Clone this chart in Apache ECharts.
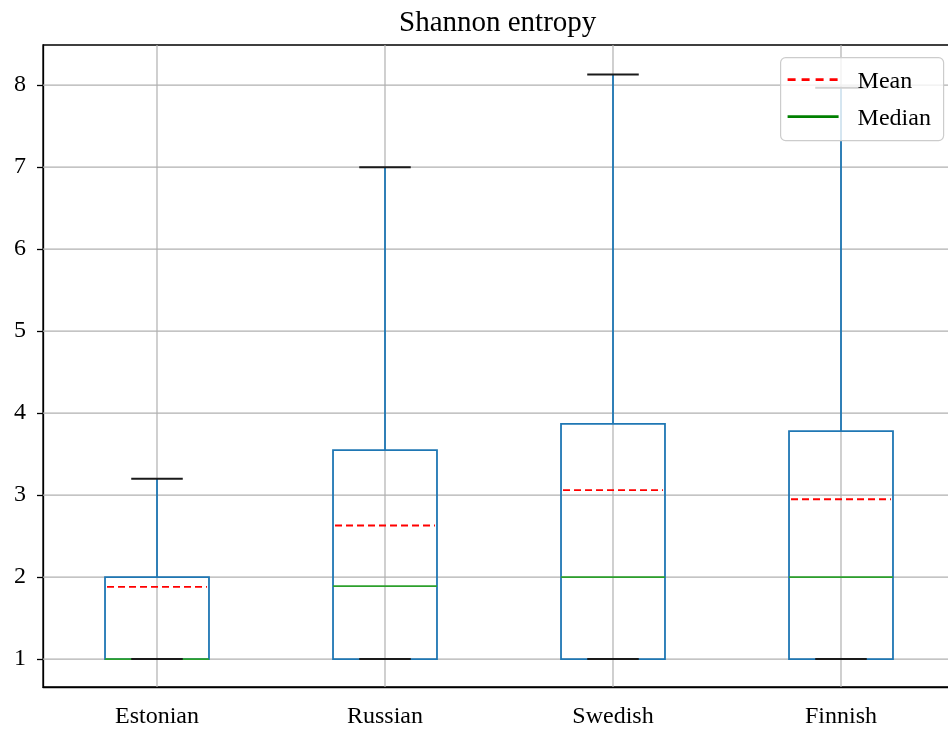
<!DOCTYPE html>
<html><head><meta charset="utf-8">
<script src="https://cdn.jsdelivr.net/npm/echarts@6/dist/echarts.min.js"></script>
<style>html,body{margin:0;padding:0;background:#fff;overflow:hidden}#c{width:960px;height:730px}</style>
</head><body><div id="c"></div>
<script>
const categories = ['Estonian', 'Russian', 'Swedish', 'Finnish'];
const whiskerLow = [1, 1, 1, 1];
const q1 = [1, 1, 1, 1];
const median = [1, 1.89, 2, 2];
const mean = [1.88, 2.63, 3.06, 2.95];
const q3 = [2, 3.55, 3.87, 3.78];
const whiskerHigh = [3.2, 7.0, 8.13, 7.97];
const yTicks = [1, 2, 3, 4, 5, 6, 7, 8];

const FONT = '"Liberation Serif","DejaVu Serif","Times New Roman",serif';
const boxData = categories.map((c, i) => [i, whiskerLow[i], q1[i], median[i], mean[i], q3[i], whiskerHigh[i]]);

const chart = echarts.init(document.getElementById('c'), null, {renderer: 'canvas'});
chart.setOption({
  animation: false,
  backgroundColor: '#fff',
  grid: {left: 43, top: 45, width: 912, height: 642, show: true, borderColor: '#000', borderWidth: 1.3, backgroundColor: 'transparent'},
  xAxis: {
    type: 'category', data: categories,
    axisLine: {lineStyle: {color: '#000', width: 1.3}},
    axisTick: {alignWithLabel: true, length: 6, lineStyle: {color: '#000', width: 1.3}},
    axisLabel: {color: '#000', fontFamily: FONT, fontSize: 24, margin: 18},
    splitLine: {show: false}
  },
  yAxis: {
    type: 'value', min: 0.66, max: 8.49,
    axisLine: {show: true, lineStyle: {color: '#000', width: 1.3}},
    axisTick: {show: true, length: 6, customValues: yTicks, lineStyle: {color: '#000', width: 1.3}},
    axisLabel: {color: '#000', fontFamily: FONT, fontSize: 24, margin: 17, customValues: yTicks},
    splitLine: {show: false}
  },
  series: [
    {
      type: 'custom', z: 1, silent: true,
      data: yTicks.map(v => [0, v]),
      renderItem: function (params, api) {
        const cs = params.coordSys;
        const y = api.coord([0, api.value(1)])[1];
        return {type: 'line', shape: {x1: cs.x, y1: y, x2: cs.x + cs.width, y2: y}, style: {stroke: '#b0b0b0', lineWidth: 1.2}};
      }
    },
    {
      type: 'custom', z: 1, silent: true,
      data: categories.map((c, i) => [i, 1]),
      renderItem: function (params, api) {
        const cs = params.coordSys;
        const x = api.coord([api.value(0), 1])[0];
        return {type: 'line', shape: {x1: x, y1: cs.y, x2: x, y2: cs.y + cs.height}, style: {stroke: '#b0b0b0', lineWidth: 1.2}};
      }
    },
    {
      type: 'custom', z: 3, silent: true,
      data: boxData,
      encode: {x: 0, y: [1, 2, 3, 4, 5, 6]},
      renderItem: function (params, api) {
        const xi = api.value(0);
        const unit = api.size([1, 0])[0];
        const hw = unit * 0.228, cw = unit * 0.113;
        const cx = api.coord([xi, 0])[0];
        const Y = v => api.coord([xi, v])[1];
        const lo = Y(api.value(1)), b1 = Y(api.value(2)), md = Y(api.value(3)), mn = Y(api.value(4)), b3 = Y(api.value(5)), hi = Y(api.value(6));
        const blue = '#1f77b4';
        return {type: 'group', children: [
          {type: 'line', shape: {x1: cx, y1: b3, x2: cx, y2: hi}, style: {stroke: blue, lineWidth: 1.8}},
          {type: 'line', shape: {x1: cx, y1: b1, x2: cx, y2: lo}, style: {stroke: blue, lineWidth: 1.8}},
          {type: 'rect', shape: {x: cx - hw, y: b3, width: 2 * hw, height: b1 - b3}, style: {stroke: blue, fill: null, lineWidth: 1.8}},
          {type: 'line', shape: {x1: cx - hw, y1: md, x2: cx + hw, y2: md}, style: {stroke: '#2ca02c', lineWidth: 1.8}},
          {type: 'line', shape: {x1: cx - cw, y1: hi, x2: cx + cw, y2: hi}, style: {stroke: '#1a1a1a', lineWidth: 2}},
          {type: 'line', shape: {x1: cx - cw, y1: lo, x2: cx + cw, y2: lo}, style: {stroke: '#1a1a1a', lineWidth: 2}},
          {type: 'line', shape: {x1: cx - hw + 2, y1: mn, x2: cx + hw - 2, y2: mn}, style: {stroke: '#ff0000', lineWidth: 1.8, lineDash: [7, 4]}}
        ]};
      }
    }
  ],
  graphic: [
    {type: 'text', left: 399, top: 9, z: 100,
     style: {text: 'Shannon entropy', fill: '#000', font: '29px ' + FONT, x: 0, y: 0}},
    {type: 'group', left: 780, top: 57, z: 100, children: [
      {type: 'rect', z: 100, shape: {x: 0, y: 0, width: 163, height: 83, r: 5}, style: {fill: 'rgba(255,255,255,0.8)', stroke: '#cccccc', lineWidth: 1.2}},
      {type: 'line', z: 101, shape: {x1: 7, y1: 22, x2: 58, y2: 22}, style: {stroke: '#ff0000', lineWidth: 2.6, lineDash: [8, 6]}},
      {type: 'line', z: 101, shape: {x1: 7, y1: 59, x2: 58, y2: 59}, style: {stroke: '#008000', lineWidth: 2.6}},
      {type: 'text', z: 101, x: 77, y: 12, style: {text: 'Mean', fill: '#000', font: '24px ' + FONT}},
      {type: 'text', z: 101, x: 77, y: 49, style: {text: 'Median', fill: '#000', font: '24px ' + FONT}}
    ]}
  ]
});
</script></body></html>
